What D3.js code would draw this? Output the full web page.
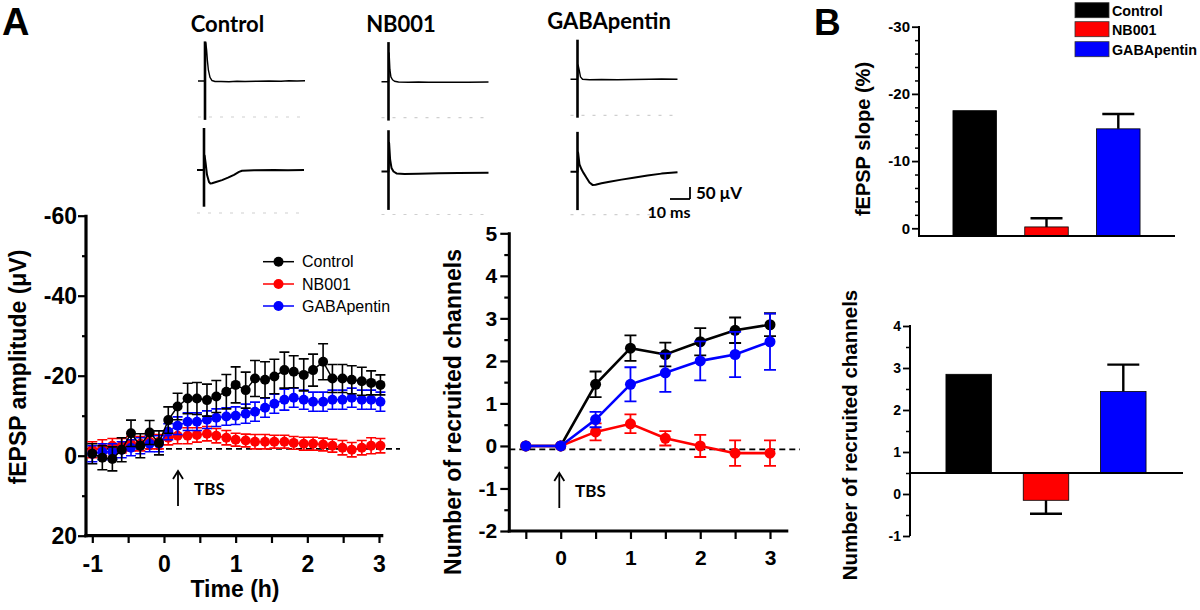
<!DOCTYPE html>
<html><head><meta charset="utf-8">
<script src="https://cdn.jsdelivr.net/npm/d3@7"></script>
<style>body{margin:0;background:#fff}svg{display:block}</style>
</head><body><svg id="c" width="1200" height="610"></svg>
<script>
// ---------------- DATA ----------------
const groups = ["Control", "NB001", "GABApentin"];
const colors = ["#000000", "#ff0000", "#0000ff"];

// Panel A (left): fEPSP amplitude (uV) vs time (h)
const timeA = [-1.0,-0.86,-0.72,-0.59,-0.46,-0.33,-0.2,-0.07,
  0.06,0.19,0.33,0.46,0.6,0.73,0.87,1.0,1.14,1.27,1.41,1.54,1.68,1.81,1.95,2.08,2.22,2.35,2.49,2.62,2.76,2.89,3.02];
const ampControl = [-0.5,0.5,0.8,-1.5,-5.6,-2.5,-5.8,-3.2,
  -8.9,-12.3,-14.3,-14.3,-13.9,-14.8,-16,-17.7,-16.4,-19.3,-19,-19.8,-21.4,-21,-20.2,-21.4,-23.5,-19.3,-19.3,-19,-18.6,-18.2,-17.7];
const errControl = [2.5,3,3,3,3.3,3,3,3,
  3.3,3.3,3.8,4,4,4,4.3,4.5,4.5,4.5,4.5,4.3,4.5,4,4,4,4.5,3.5,3.5,3.5,3.5,3,2.5];
const ampNB001 = [-1.5,-2,-2.5,-2.5,-3,-3,-3.5,-3.5,
  -4.5,-5,-5,-5.2,-5.5,-5,-4.5,-4,-3.8,-3.5,-3.5,-3.5,-3.5,-3.2,-3,-3,-2.8,-2.5,-2,-1.5,-2,-2.5,-2.5];
const errNB001 = [2,2,1.8,1.8,1.8,1.8,1.8,1.8,
  1.8,2,2,1.8,1.8,1.8,1.8,1.6,1.6,1.8,1.8,1.6,1.6,1.6,1.6,1.6,1.6,1.6,1.8,1.8,1.8,2,1.8];
const ampGaba = [-0.5,-1,-1,-1.5,-2,-2.5,-3,-3,
  -6,-7.5,-8.5,-8.5,-9,-9.5,-9.8,-10,-10.5,-11,-12,-13,-14,-14.5,-14,-13.5,-13.5,-14,-14,-14.5,-14,-14,-13.5];
const errGaba = [2,2,2,2,2,2,2,2,
  2,2.2,2.2,2.2,2.2,2.2,2.2,2.2,2.4,2.4,2.4,2.4,2.6,2.4,2.4,2.4,2.4,2.4,2.4,2.4,2.4,2.4,2.4];
const ampTicks = [-60,-40,-20,0,20], ampMinor = [-50,-30,-10,10];
const timeATicks = [-1,-0.5,0,0.5,1,1.5,2,2.5,3];
const refA = -1.7;

// Panel A (middle): recruited channels vs time (h)
const timeB = [-0.5,0,0.5,1,1.5,2,2.5,3];
const chControl = [0,0,1.45,2.3,2.15,2.45,2.72,2.85];
const errChControl = [0,0,0.3,0.3,0.28,0.32,0.3,0.27];
const chNB001 = [0,0,0.33,0.52,0.18,0.0,-0.17,-0.17];
const errChNB001 = [0,0,0.2,0.22,0.17,0.26,0.3,0.3];
const chGaba = [0,0,0.62,1.45,1.72,2.0,2.15,2.45];
const errChGaba = [0,0,0.18,0.4,0.45,0.46,0.53,0.66];
const chTicks = [-2,-1,0,1,2,3,4,5], chMinor = [-1.5,-0.5,0.5,1.5,2.5,3.5,4.5];
const timeBTicks = [-0.5,0,0.5,1,1.5,2,2.5,3];
const refB = -0.08;

// Panel B: bars
const slopeMean = [-17.5,-0.2,-14.8], slopeErr = [0,1.3,2.2];
const slopeTicks = [-30,-20,-10,0], slopeMinor = [-28,-26,-24,-22,-18,-16,-14,-12,-8,-6,-4,-2];
const chanMean = [2.85,-0.15,2.44], chanErr = [0,0.32,0.64];
const chanTicks = [-1,0,1,2,3,4], chanMinor = [-0.5,0.5,1.5,2.5,3.5];

// Example traces: [ms, uV]
const traceTitles = ["Control","NB001","GABApentin"];
const artifactTop = [[165,-162],[165,-162],[165,-160]];
const artifactBottom = [[175,-153],[172,-160],[166,-160]];
const tracesTop = [
  [[-3.5,0],[0,0],[0.4,160],[0.8,130],[1.2,85],[1.7,45],[2.5,15],[3.5,2],[5,-2],[8,-2],[12,-3],[16,-1],[20,-2],[26,-1],[32,0],[38,-1],[42,1],[46,0],[50,1]],
  [[-3.5,0],[0,0],[0.3,120],[0.7,50],[1.2,20],[2,8],[3,2],[5,-1],[10,-2],[15,-1],[20,-2],[30,-2],[40,-2],[50,-1]],
  [[-3.5,0],[0,0],[0.3,60],[0.8,40],[1.5,10],[2.5,0],[6,-2],[12,-1],[20,-2],[28,-1],[36,0],[42,1],[50,0]]
];
const tracesBottom = [
  [[-3.5,0],[0,0],[0.3,60],[0.8,30],[1.5,-20],[2.5,-50],[3.2,-56],[4,-55],[6,-50],[9,-42],[12,-32],[15,-20],[17.5,-8],[19,-3],[25,-1],[35,0],[42,-1],[50,0]],
  [[-3.5,0],[0,0],[0.3,120],[0.8,50],[1.5,15],[2.5,0],[4,-8],[8,-10],[15,-9],[25,-7],[35,-6],[50,-5]],
  [[-3.5,0],[0,0],[0.3,80],[1,30],[2,10],[3,-5],[4.5,-25],[6,-45],[7.5,-55],[9,-54],[12,-48],[16,-42],[22,-33],[28,-25],[35,-16],[42,-8],[50,-2]]
];

// ---------------- DRAW ----------------
const svg = d3.select("#c");
svg.append("rect").attr("width",1200).attr("height",610).attr("fill","#fff");
const AR = "'Liberation Sans', Arial, sans-serif";
const CB = "Lato, 'Open Sans', sans-serif";

function styleAxis(g, size, sw) {
  g.select(".domain").remove();
  g.selectAll("line").attr("stroke","#000").attr("stroke-width",sw);
  g.selectAll("text").attr("font-family",AR).attr("font-weight","bold").attr("font-size",size).attr("fill","#000");
}
const fmt = d => String(d);

// panel letters
svg.append("text").attr("x",2).attr("y",35).text("A").attr("font-family",AR).attr("font-weight","bold").attr("font-size",38);
svg.append("text").attr("x",814).attr("y",35).text("B").attr("font-family",AR).attr("font-weight","bold").attr("font-size",37);

// ---- Traces ----
const xT = d3.scaleLinear().domain([0,10]).range([0,20]);
const yT = d3.scaleLinear().domain([0,50]).range([0,-12]);
const traceX = [205, 388.5, 577.5];
const traceXb = [204, 388.5, 577.5];
const baseTop = [81, 81.7, 79.3];
const baseBot = [170, 171.5, 171.7];
const titleX = [227.5, 401, 609], titleY = [32, 32, 29];
const tline = d3.line().x(d=>xT(d[0])).y(d=>yT(d[1]));
for (let i=0;i<3;i++) {
  svg.append("text").attr("x",titleX[i]).attr("y",titleY[i]).attr("text-anchor","middle")
    .attr("font-family",CB).attr("font-weight","bold").attr("font-size",22).text(traceTitles[i]);
  [[traceX[i], baseTop[i], tracesTop[i], artifactTop[i], 1.4, 36],
   [traceXb[i], baseBot[i], tracesBottom[i], artifactBottom[i], 2, 43]].forEach(([tx,ty,tr,art,w,off])=>{
    const g = svg.append("g").attr("transform",`translate(${tx},${ty})`);
    g.append("line").attr("x1",xT(-3.5)).attr("x2",xT(50)).attr("y1",off).attr("y2",off)
      .attr("stroke","#cfcfcf").attr("stroke-width",1.2).attr("stroke-dasharray","3,8");
    g.append("line").attr("x1",0).attr("x2",0).attr("y1",yT(art[0])).attr("y2",yT(art[1]))
      .attr("stroke","#000").attr("stroke-width",2.6);
    g.append("path").attr("d",tline(tr)).attr("fill","none").attr("stroke","#000").attr("stroke-width",w).attr("stroke-linejoin","round");
  });
}
// scale bar
{
  const g = svg.append("g").attr("transform","translate(690,199)");
  g.append("line").attr("x1",xT(-10)).attr("x2",0).attr("y1",0).attr("y2",0).attr("stroke","#000").attr("stroke-width",1.8);
  g.append("line").attr("x1",0).attr("x2",0).attr("y1",0).attr("y2",yT(50)).attr("stroke","#000").attr("stroke-width",1.8);
  svg.append("text").attr("x",696).attr("y",199).text("50 μV").attr("font-family",CB).attr("font-weight","bold").attr("font-size",17);
  svg.append("text").attr("x",669).attr("y",218).attr("text-anchor","middle").text("10 ms").attr("font-family",CB).attr("font-weight","bold").attr("font-size",16);
}

// ---- Left plot ----
const xL = d3.scaleLinear().domain([-1,3]).range([92.3,379]);
const yL = d3.scaleLinear().domain([-60,20]).range([215.7,535.7]);
{
  const gy = svg.append("g").attr("transform","translate(86,0)")
    .call(d3.axisLeft(yL).tickValues(ampTicks).tickSize(8).tickPadding(1).tickFormat(fmt));
  styleAxis(gy, 23, 2.2);
  const gy2 = svg.append("g").attr("transform","translate(86,0)")
    .call(d3.axisLeft(yL).tickValues(ampMinor).tickSize(4).tickFormat(""));
  styleAxis(gy2, 1, 2.2);
  const gx = svg.append("g").attr("transform","translate(0,536)")
    .call(d3.axisBottom(xL).tickValues(timeATicks).tickSize(7).tickPadding(13).tickFormat(d=>Number.isInteger(d)?fmt(d):""));
  styleAxis(gx, 23, 2.2);
  svg.append("line").attr("x1",86).attr("x2",86).attr("y1",yL(-60)-1).attr("y2",yL(20)+1.6).attr("stroke","#000").attr("stroke-width",3.2);
  svg.append("line").attr("x1",84.4).attr("x2",xL(3.06)).attr("y1",yL(20)).attr("y2",yL(20)).attr("stroke","#000").attr("stroke-width",3.2);
  svg.append("line").attr("x1",86).attr("x2",400).attr("y1",yL(refA)).attr("y2",yL(refA))
    .attr("stroke","#000").attr("stroke-width",1.8).attr("stroke-dasharray","6,4");
  const series = [[ampNB001,errNB001,1],[ampGaba,errGaba,2],[ampControl,errControl,0]];
  series.forEach(([vals,errs,ci])=>{
    const c = colors[ci];
    const pts = timeA.map((t,i)=>({t,v:vals[i],e:errs[i]}));
    const g = svg.append("g");
    g.selectAll(".eb").data(pts).enter().append("path")
      .attr("d",d=>{const x=xL(d.t),y1=yL(d.v-d.e),y2=yL(d.v+d.e);
        return `M${x},${y1}V${y2}M${x-5},${y1}H${x+5}M${x-5},${y2}H${x+5}`;})
      .attr("stroke",c).attr("stroke-width",1.6).attr("fill","none");
    g.append("path").attr("d",d3.line().x(d=>xL(d.t)).y(d=>yL(d.v))(pts))
      .attr("fill","none").attr("stroke",c).attr("stroke-width",1.5);
    g.selectAll("circle").data(pts).enter().append("circle")
      .attr("cx",d=>xL(d.t)).attr("cy",d=>yL(d.v)).attr("r",5).attr("fill",c);
  });
  // legend
  const ly = [261.7, 284, 306];
  [0,1,2].forEach(i=>{
    svg.append("line").attr("x1",263).attr("x2",294).attr("y1",ly[i]).attr("y2",ly[i]).attr("stroke",colors[i]).attr("stroke-width",1.5);
    svg.append("circle").attr("cx",278.5).attr("cy",ly[i]).attr("r",5).attr("fill",colors[i]);
    svg.append("text").attr("x",302).attr("y",ly[i]+5.5).text(groups[i])
      .attr("font-family",AR).attr("font-size",16).attr("fill","#000");
  });
  // axis titles
  svg.append("text").attr("transform","translate(26,367) rotate(-90)").attr("text-anchor","middle")
    .attr("font-family",AR).attr("font-weight","bold").attr("font-size",23).text("fEPSP amplitude (μV)");
  svg.append("text").attr("x",235).attr("y",597).attr("text-anchor","middle")
    .attr("font-family",AR).attr("font-weight","bold").attr("font-size",23).text("Time (h)");
}

// arrows
function arrow(x, y1, y2, tx) {
  svg.append("line").attr("x1",x).attr("x2",x).attr("y1",y1).attr("y2",y2+1).attr("stroke","#000").attr("stroke-width",1.8);
  svg.append("path").attr("d",`M${x-5},${y2+8}L${x},${y2}L${x+5},${y2+8}`).attr("fill","none").attr("stroke","#000").attr("stroke-width",1.8);
  svg.append("text").attr("x",tx).attr("y",(y1+y2)/2+6).text("TBS").attr("font-family",CB).attr("font-weight","bold").attr("font-size",17);
}
arrow(178, 506, 471, 194);
arrow(559.3, 508, 473, 575);

// ---- Middle plot ----
const xM = d3.scaleLinear().domain([0,3]).range([560.7,770]);
const yM = d3.scaleLinear().domain([-2,5]).range([531,233.3]);
{
  const gy = svg.append("g").attr("transform","translate(509.3,0)")
    .call(d3.axisLeft(yM).tickValues(chTicks).tickSize(9).tickPadding(3).tickFormat(fmt));
  styleAxis(gy, 21, 2.2);
  const gy2 = svg.append("g").attr("transform","translate(509.3,0)")
    .call(d3.axisLeft(yM).tickValues(chMinor).tickSize(5).tickFormat(""));
  styleAxis(gy2, 1, 2.2);
  const gx = svg.append("g").attr("transform","translate(0,531)")
    .call(d3.axisBottom(xM).tickValues(timeBTicks).tickSize(8).tickPadding(11).tickFormat(d=>(Number.isInteger(d)&&d>=0)?fmt(d):""));
  styleAxis(gx, 21, 2.2);
  svg.append("line").attr("x1",509.3).attr("x2",509.3).attr("y1",yM(5)-1).attr("y2",yM(-2)+1.5).attr("stroke","#000").attr("stroke-width",3);
  svg.append("line").attr("x1",507.8).attr("x2",788.3).attr("y1",yM(-2)).attr("y2",yM(-2)).attr("stroke","#000").attr("stroke-width",3);
  svg.append("line").attr("x1",509.3).attr("x2",800).attr("y1",yM(refB)).attr("y2",yM(refB))
    .attr("stroke","#000").attr("stroke-width",1.8).attr("stroke-dasharray","6,4");
  const series = [[chControl,errChControl,0],[chNB001,errChNB001,1],[chGaba,errChGaba,2]];
  series.forEach(([vals,errs,ci])=>{
    const c = colors[ci];
    const pts = timeB.map((t,i)=>({t,v:vals[i],e:errs[i]}));
    const g = svg.append("g");
    g.selectAll(".eb").data(pts.filter(d=>d.e>0)).enter().append("path")
      .attr("d",d=>{const x=xM(d.t),y1=yM(d.v-d.e),y2=yM(d.v+d.e);
        return `M${x},${y1}V${y2}M${x-6},${y1}H${x+6}M${x-6},${y2}H${x+6}`;})
      .attr("stroke",c).attr("stroke-width",1.8).attr("fill","none");
    g.append("path").attr("d",d3.line().x(d=>xM(d.t)).y(d=>yM(d.v))(pts))
      .attr("fill","none").attr("stroke",c).attr("stroke-width",2.6);
    g.selectAll("circle").data(pts).enter().append("circle")
      .attr("cx",d=>xM(d.t)).attr("cy",d=>yM(d.v)).attr("r",5.5).attr("fill",c);
  });
  svg.append("text").attr("transform","translate(461,412) rotate(-90)").attr("text-anchor","middle")
    .attr("font-family",AR).attr("font-weight","bold").attr("font-size",23).text("Number of recruited channels");
}

// ---- Panel B ----
function barChart(yS, yAxisX, baseVal, xStart, xEnd, centers, barW, means, errs, ticks, minor, tickFont, title, titleX, titleY, titleSize, yTop) {
  const xP = d3.scalePoint().domain(groups).range(centers);
  const gy = svg.append("g").attr("transform",`translate(${yAxisX},0)`)
    .call(d3.axisLeft(yS).tickValues(ticks).tickSize(7).tickPadding(2).tickFormat(fmt));
  styleAxis(gy, tickFont, 1.8);
  const gy2 = svg.append("g").attr("transform",`translate(${yAxisX},0)`)
    .call(d3.axisLeft(yS).tickValues(minor).tickSize(4).tickFormat(""));
  styleAxis(gy2, 1, 1.5);
  const yb = yS(baseVal);
  groups.forEach((gname,i)=>{
    const x = xP(gname), v = means[i], e = errs[i];
    const yv = yS(v);
    const dir = Math.sign(v - baseVal);
    if (e > 0) {
      const ye = yS(v + dir*e);
      svg.append("path").attr("d",`M${x},${yv}V${ye}M${x-16},${ye}H${x+16}`)
        .attr("stroke","#000").attr("stroke-width",2.4).attr("fill","none");
    }
    svg.append("rect").attr("x",x-barW/2).attr("width",barW)
      .attr("y",Math.min(yv,yb)).attr("height",Math.abs(yv-yb))
      .attr("fill",colors[i]).attr("stroke","#000").attr("stroke-width",0.8);
  });
  svg.append("line").attr("x1",yAxisX).attr("x2",yAxisX).attr("y1",yTop).attr("y2",yS.range()[0]).attr("stroke","#000").attr("stroke-width",2);
  svg.append("line").attr("x1",xStart).attr("x2",xEnd).attr("y1",yb).attr("y2",yb).attr("stroke","#000").attr("stroke-width",2);
  svg.append("text").attr("transform",`translate(${titleX},${titleY}) rotate(-90)`).attr("text-anchor","middle")
    .attr("font-family",AR).attr("font-weight","bold").attr("font-size",titleSize).text(title);
}
const yS1 = d3.scaleLinear().domain([1.15,-30]).range([236,26.7]);
barChart(yS1, 919, 1.15, 918, 1175, [974.7,1118.3], 43.5, slopeMean, slopeErr, slopeTicks, slopeMinor, 15, "fEPSP slope (%)", 870, 139, 20, 26);
const yS2 = d3.scaleLinear().domain([-1,4]).range([536,326]);
barChart(yS2, 910, 0.5, 909, 1183, [968.7,1123.3], 45.5, chanMean, chanErr, chanTicks, chanMinor, 14, "Number of recruited channels", 857, 435, 20.5, 325);

// legend B
{
  const ly = [2.7, 21.7, 41.7];
  groups.forEach((g,i)=>{
    svg.append("rect").attr("x",1075).attr("y",ly[i]).attr("width",34).attr("height",15)
      .attr("fill",colors[i]).attr("stroke","#333").attr("stroke-width",0.8);
    svg.append("text").attr("x",1112).attr("y",ly[i]+13).text(g)
      .attr("font-family",AR).attr("font-weight","bold").attr("font-size",14.3);
  });
}
</script></body></html>
